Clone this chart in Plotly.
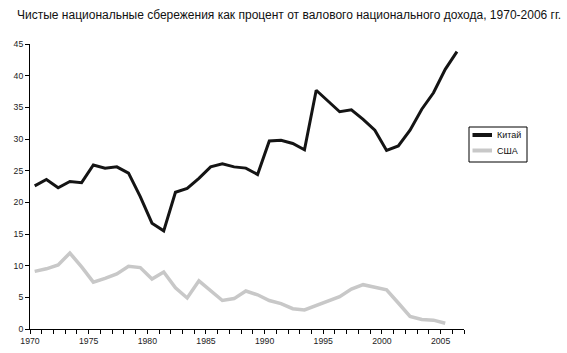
import plotly.graph_objects as go

years = list(range(1970, 2007))
china = [22.6, 23.6, 22.3, 23.3, 23.1, 25.9, 25.4, 25.6, 24.6, 20.9, 16.7, 15.5,
         21.6, 22.2, 23.8, 25.6, 26.1, 25.6, 25.4, 24.4, 29.7, 29.8, 29.3, 28.3,
         37.7, 36.0, 34.3, 34.6, 33.1, 31.4, 28.2, 28.9, 31.4, 34.7, 37.3, 41.0, 43.8]
usa_years = list(range(1970, 2006))
usa = [9.1, 9.5, 10.1, 12.0, 9.8, 7.4, 8.0, 8.7, 9.9, 9.7, 7.9, 9.0,
       6.5, 4.9, 7.6, 6.0, 4.5, 4.8, 6.0, 5.4, 4.5, 4.0, 3.2, 3.0,
       3.7, 4.5, 5.1, 6.3, 7.0, 6.6, 6.2, 4.1, 2.0, 1.5, 1.4, 0.9]
series_names = ["Китай", "США"]
series_colors = ["#141414", "#c8c8c8"]
series_widths = [3, 3.5]
title_text = "Чистые национальные сбережения как процент от валового национального дохода, 1970-2006 гг."
y_ticks = list(range(0, 50, 5))
tick_years = list(range(1970, 2008))

FONT = "Liberation Sans, Arial, sans-serif"
TICK_SHIFT = 0.4  # axis year ticks sit slightly left of the plotted points

W, H = 567, 353
ML, MR, MT, MB = 30, 103, 44, 24

fig = go.Figure()
fig.add_trace(go.Scatter(x=years, y=china, mode="lines", name=series_names[0],
                         line=dict(color=series_colors[0], width=series_widths[0])))
fig.add_trace(go.Scatter(x=usa_years, y=usa, mode="lines", name=series_names[1],
                         line=dict(color=series_colors[1], width=series_widths[1])))

# manual legend box (pixel layout converted to paper fractions)
pw, ph = W - ML - MR, H - MT - MB
def px(X):
    return (X - ML) / pw
def py(Y):
    return (H - MB - Y) / ph

fig.add_shape(type="rect", xref="paper", yref="paper",
              x0=px(469), x1=px(527), y0=py(162), y1=py(127),
              line=dict(color="black", width=1), fillcolor="white")
for i, (name, col, wdt) in enumerate(zip(series_names, series_colors, series_widths)):
    yy = 135 + i * 15.5
    fig.add_shape(type="line", xref="paper", yref="paper",
                  x0=px(472.5), x1=px(492), y0=py(yy), y1=py(yy),
                  line=dict(color=col, width=4))
    fig.add_annotation(xref="paper", yref="paper", x=px(494.5), y=py(yy),
                       xanchor="left", yanchor="middle", text=name, showarrow=False,
                       font=dict(family=FONT, size=9, color="#111"))

fig.update_layout(
    template="none",
    width=W, height=H,
    margin=dict(l=ML, r=MR, t=MT, b=MB, pad=0),
    paper_bgcolor="white", plot_bgcolor="white",
    font=dict(family=FONT, size=9, color="#222"),
    title=dict(text=title_text, xref="container", yref="container",
               x=0.03, xanchor="left", y=1 - 15 / H, yanchor="middle",
               font=dict(family=FONT, size=12, color="#111")),
    showlegend=False,
)
fig.update_xaxes(
    automargin=False,
    range=[1970 - TICK_SHIFT, 2007 - TICK_SHIFT],
    tickmode="array",
    tickvals=[y - TICK_SHIFT for y in tick_years],
    ticktext=[str(y) if y % 5 == 0 else "" for y in tick_years],
    ticks="outside", ticklen=4, tickcolor="black", tickwidth=1,
    showline=True, linecolor="black", linewidth=1,
    showgrid=False, zeroline=False,
    tickfont=dict(size=8.7, family=FONT, color="#222"),
)
fig.update_yaxes(
    automargin=False,
    range=[0, 45], tickvals=y_ticks,
    ticks="outside", ticklen=4, tickcolor="black", tickwidth=1,
    showline=True, linecolor="black", linewidth=1,
    showgrid=False, zeroline=False,
    tickfont=dict(size=8.7, family=FONT, color="#222"),
)

fig.write_html("out.html")
